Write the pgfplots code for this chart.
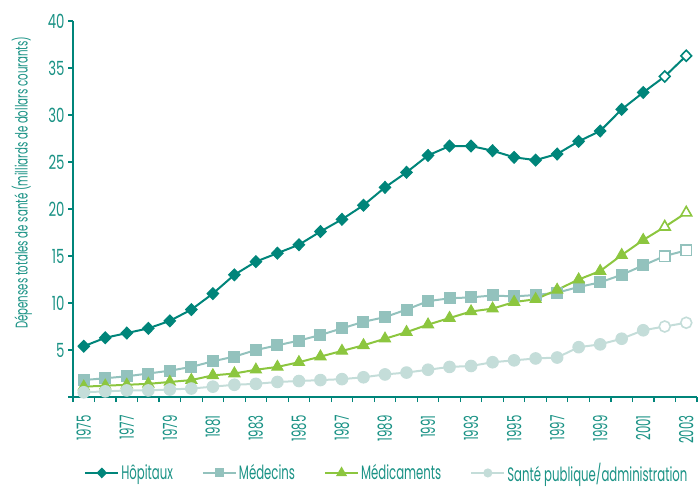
\documentclass[border=0pt]{standalone}
\usepackage{fontspec}
\setmainfont{Poppins}[FakeStretch=0.6]
\newfontfamily\yfont{Poppins}[FakeStretch=0.68]
\usepackage{pgfplots}
\pgfplotsset{compat=1.18}
\definecolor{hop}{HTML}{00857A}
\definecolor{med}{HTML}{93C2BD}
\definecolor{mdc}{HTML}{8CC63F}
\definecolor{spa}{HTML}{C4DDD9}
\definecolor{txt}{HTML}{1A9285}
\begin{document}
\begin{tikzpicture}
\path[use as bounding box] (-73pt,-91pt) rectangle (626pt,397pt);
\begin{axis}[
  scale only axis, width=624pt, height=376pt,
  xmin=1974.5, xmax=2003.5, ymin=0, ymax=40,
  axis lines*=left,
  axis line style={hop, line width=2pt},
  tick style={hop, line width=1.2pt},
  tick align=outside, major tick length=5pt,
  xtick={1974.5,1975.5,...,2003.5}, xticklabels={},
  extra x ticks={1975,1977,...,2003},
  extra x tick labels={1975,1977,1979,1981,1983,1985,1987,1989,1991,1993,1995,1997,1999,2001,2003},
  extra x tick style={major tick length=0pt},
  xticklabel shift=15pt,
  xticklabel style={rotate=90, anchor=east, font=\fontsize{19.5}{19}\selectfont, txt},
  ytick={0,5,...,40}, yticklabels={,5,10,15,20,25,30,35,40},
  yticklabel style={font=\yfont\fontsize{19.5}{19}\selectfont, txt},
  /pgf/number format/assume math mode=true,
  ylabel={Dépenses totales de santé (milliards de dollars courants)},
  ylabel style={at={(axis description cs:-0.082,0.57)}, anchor=center, font=\fontsize{17}{17}\selectfont, txt},
  legend columns=4,
  legend style={at={(0.503,-0.202)}, anchor=center, draw=none, fill=none,
    font=\fontsize{19.5}{19}\selectfont, text=txt,
    /tikz/every even column/.append style={column sep=27pt}},
  legend cell align=left,
  legend image code/.code={\draw[mark repeat=2, mark phase=2, #1] plot coordinates {(0pt,0pt) (16.5pt,0pt) (33pt,0pt)};},
]
% legend
\addlegendimage{hop, line width=2pt, mark=diamond*, mark size=4pt, mark options={xscale=1.3, fill=hop}}
\addlegendentry{Hôpitaux}
\addlegendimage{med, line width=2pt, mark=square*, mark size=3.5pt, mark options={fill=med}}
\addlegendentry{Médecins}
\addlegendimage{mdc, line width=2pt, mark=triangle*, mark size=4.5pt, mark options={fill=mdc}}
\addlegendentry{Médicaments}
\addlegendimage{spa, line width=2pt, mark=*, mark size=3.5pt, mark options={fill=spa}}
\addlegendentry{Santé publique/administration}

% Hopitaux
\addplot[hop, line width=2pt, no marks, forget plot] coordinates {
(1975,5.4)(1976,6.3)(1977,6.8)(1978,7.3)(1979,8.1)(1980,9.3)(1981,11.0)(1982,13.0)
(1983,14.4)(1984,15.3)(1985,16.2)(1986,17.6)(1987,18.9)(1988,20.4)(1989,22.3)(1990,23.9)
(1991,25.7)(1992,26.7)(1993,26.7)(1994,26.2)(1995,25.5)(1996,25.2)(1997,25.85)(1998,27.2)
(1999,28.3)(2000,30.6)(2001,32.4)(2002,34.1)(2003,36.3)};
\addplot[hop, line width=1.2pt, only marks, mark=diamond*, mark size=5.8pt, mark options={xscale=1.3, fill=hop}, forget plot] coordinates {
(1975,5.4)(1976,6.3)(1977,6.8)(1978,7.3)(1979,8.1)(1980,9.3)(1981,11.0)(1982,13.0)
(1983,14.4)(1984,15.3)(1985,16.2)(1986,17.6)(1987,18.9)(1988,20.4)(1989,22.3)(1990,23.9)
(1991,25.7)(1992,26.7)(1993,26.7)(1994,26.2)(1995,25.5)(1996,25.2)(1997,25.85)(1998,27.2)
(1999,28.3)(2000,30.6)(2001,32.4)};
\addplot[hop, line width=1.6pt, only marks, mark=diamond*, mark size=5.5pt, mark options={xscale=1.3, fill=white}, forget plot] coordinates {
(2002,34.1)(2003,36.3)};

% Medecins
\addplot[med, line width=2pt, no marks, forget plot] coordinates {
(1975,1.8)(1976,2.0)(1977,2.2)(1978,2.5)(1979,2.8)(1980,3.2)(1981,3.8)(1982,4.3)
(1983,5.0)(1984,5.5)(1985,6.0)(1986,6.6)(1987,7.3)(1988,8.0)(1989,8.5)(1990,9.3)
(1991,10.2)(1992,10.5)(1993,10.6)(1994,10.8)(1995,10.7)(1996,10.85)(1997,11.1)(1998,11.7)
(1999,12.2)(2000,13.0)(2001,14.0)(2002,15.0)(2003,15.6)};
\addplot[med, line width=1pt, only marks, mark=square*, mark size=5.5pt, mark options={fill=med}, forget plot] coordinates {
(1975,1.8)(1976,2.0)(1977,2.2)(1978,2.5)(1979,2.8)(1980,3.2)(1981,3.8)(1982,4.3)
(1983,5.0)(1984,5.5)(1985,6.0)(1986,6.6)(1987,7.3)(1988,8.0)(1989,8.5)(1990,9.3)
(1991,10.2)(1992,10.5)(1993,10.6)(1994,10.8)(1995,10.7)(1996,10.85)(1997,11.1)(1998,11.7)
(1999,12.2)(2000,13.0)(2001,14.0)};
\addplot[med, line width=1.6pt, only marks, mark=square*, mark size=5.3pt, mark options={fill=white}, forget plot] coordinates {
(2002,15.0)(2003,15.6)};

% Medicaments
\addplot[mdc, line width=2pt, no marks, forget plot] coordinates {
(1975,1.1)(1976,1.2)(1977,1.3)(1978,1.4)(1979,1.6)(1980,1.8)(1981,2.3)(1982,2.5)
(1983,2.9)(1984,3.2)(1985,3.7)(1986,4.3)(1987,4.9)(1988,5.5)(1989,6.2)(1990,6.9)
(1991,7.7)(1992,8.4)(1993,9.1)(1994,9.4)(1995,10.1)(1996,10.4)(1997,11.4)(1998,12.5)
(1999,13.4)(2000,15.1)(2001,16.7)(2002,18.1)(2003,19.6)};
\addplot[mdc, line width=1pt, only marks, mark=triangle*, mark size=6.5pt, mark options={fill=mdc}, forget plot] coordinates {
(1975,1.1)(1976,1.2)(1977,1.3)(1978,1.4)(1979,1.6)(1980,1.8)(1981,2.3)(1982,2.5)
(1983,2.9)(1984,3.2)(1985,3.7)(1986,4.3)(1987,4.9)(1988,5.5)(1989,6.2)(1990,6.9)
(1991,7.7)(1992,8.4)(1993,9.1)(1994,9.4)(1995,10.1)(1996,10.4)(1997,11.4)(1998,12.5)
(1999,13.4)(2000,15.1)(2001,16.7)};
\addplot[mdc, line width=1.6pt, only marks, mark=triangle*, mark size=6.3pt, mark options={fill=white}, forget plot] coordinates {
(2002,18.1)(2003,19.6)};

% Sante publique
\addplot[spa, line width=2pt, no marks, forget plot] coordinates {
(1975,0.5)(1976,0.6)(1977,0.7)(1978,0.7)(1979,0.8)(1980,0.9)(1981,1.1)(1982,1.3)
(1983,1.4)(1984,1.6)(1985,1.7)(1986,1.8)(1987,1.9)(1988,2.1)(1989,2.4)(1990,2.6)
(1991,2.9)(1992,3.2)(1993,3.3)(1994,3.7)(1995,3.9)(1996,4.1)(1997,4.2)(1998,5.3)
(1999,5.6)(2000,6.2)(2001,7.1)(2002,7.5)(2003,7.9)};
\addplot[spa, line width=1pt, only marks, mark=*, mark size=5.8pt, mark options={fill=spa}, forget plot] coordinates {
(1975,0.5)(1976,0.6)(1977,0.7)(1978,0.7)(1979,0.8)(1980,0.9)(1981,1.1)(1982,1.3)
(1983,1.4)(1984,1.6)(1985,1.7)(1986,1.8)(1987,1.9)(1988,2.1)(1989,2.4)(1990,2.6)
(1991,2.9)(1992,3.2)(1993,3.3)(1994,3.7)(1995,3.9)(1996,4.1)(1997,4.2)(1998,5.3)
(1999,5.6)(2000,6.2)(2001,7.1)};
\addplot[spa, line width=1.6pt, only marks, mark=*, mark size=5.5pt, mark options={fill=white}, forget plot] coordinates {
(2002,7.5)(2003,7.9)};
\end{axis}
\end{tikzpicture}
\end{document}
